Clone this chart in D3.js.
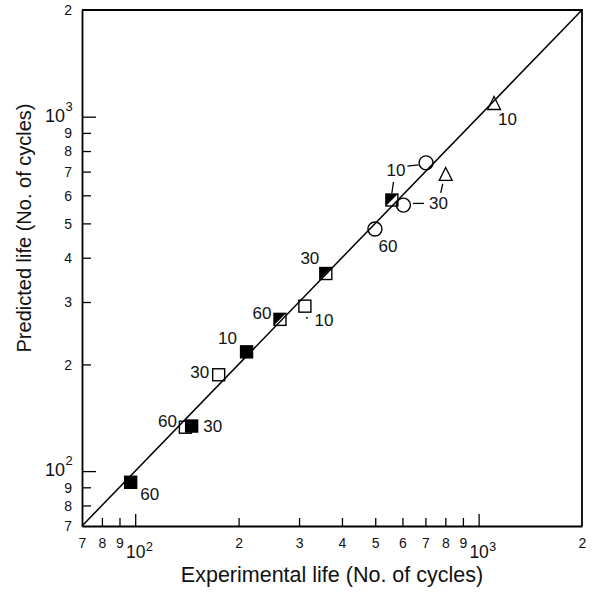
<!DOCTYPE html>
<html>
<head>
<meta charset="utf-8">
<script src="https://cdn.jsdelivr.net/npm/d3@7"></script>
<style>
  body { margin: 0; background: #fff; }
  text { font-family: "Liberation Sans", Arial, sans-serif; fill: #111; }
</style>
</head>
<body>
<script>
// experimental vs predicted life, grouped by marker type
const filledExp = [97, 146, 211];
const filledPred = [93, 134, 217];
const filledLabels = ["60", "30", "10"];

const openExp = [140, 175, 312];
const openPred = [133, 187, 292];
const openLabels = ["60", "30", "10"];

const halfExp = [264, 359, 559];
const halfPred = [268, 361, 582];
const halfLabels = ["60", "30", "10"];

const circleExp = [499, 604, 703];
const circlePred = [482, 563, 741];
const circleLabels = ["60", "30", "10"];

const triangleExp = [802, 1109];
const trianglePred = [685, 1086];
const triangleLabels = ["30", "10"];

const tickValues = [70, 80, 90, 100, 200, 300, 400, 500, 600, 700, 800, 900, 1000, 2000];
const tickLabels = ["7", "8", "9", "10^2", "2", "3", "4", "5", "6", "7", "8", "9", "10^3", "2"];

// label placement (offset from marker, optional leader line), not data
const layout = {
    filled: [{dx: 19, dy: 12}, {dx: 21, dy: 0}, {dx: -19, dy: -13}],
    open: [{dx: -18, dy: -6}, {dx: -19, dy: -2}, {dx: 19, dy: 14, lead: [1, 11.5, 3, 12]}],
    half: [{dx: -18, dy: -6}, {dx: -16, dy: -15}, {dx: 4, dy: -30, lead: [1.6, -18, 0, -7]}],
    circle: [{dx: 13, dy: 17.5}, {dx: 35, dy: -1.5, lead: [9.5, -1.7, 20.5, -1.7]}, {hide: true, lead: [-18.7, 3.3, -7.7, 2]}],
    triangle: [{hide: true, lead: [-3, 9, -5, 18]}, {dx: 13.5, dy: 16}]
};

const w = 592, h = 601;
const svg = d3.select("body").append("svg")
    .attr("width", w)
    .attr("height", h);

const x = d3.scaleLog().domain([70, 2000]).range([82, 582]);
const y = d3.scaleLog().domain([70, 2000]).range([526, 10]);

const label = d3.scaleOrdinal().domain(tickValues).range(tickLabels);
const isMajor = d => d === 100 || d === 1000;
const isEnd = d => d === 70 || d === 2000;

// bottom axis, ticks pointing inwards
const gx = svg.append("g")
    .attr("transform", `translate(0,${y(70)})`)
    .call(d3.axisBottom(x).tickValues(tickValues).tickSizeInner(-8).tickSizeOuter(0).tickFormat(label));

gx.select(".domain").attr("stroke-width", 1.8);
gx.selectAll(".tick line")
    .attr("stroke-width", 1.3)
    .attr("y2", d => isMajor(d) ? -12 : -8)
    .attr("display", d => isEnd(d) ? "none" : null);
gx.selectAll(".tick text")
    .attr("dy", null)
    .attr("y", d => isMajor(d) ? 32 : 22)
    .attr("font-size", d => isMajor(d) ? 17.5 : 14)
    .text(d => label(d).split("^")[0]);
gx.selectAll(".tick").filter(isMajor)
    .append("text")
    .attr("x", 10)
    .attr("y", 24.5)
    .attr("text-anchor", "start")
    .attr("font-size", 13)
    .attr("fill", "#111")
    .text(d => label(d).split("^")[1]);

// left axis
const gy = svg.append("g")
    .attr("transform", `translate(${x(70)},0)`)
    .call(d3.axisLeft(y).tickValues(tickValues).tickSizeInner(-9).tickSizeOuter(0).tickFormat(label));

gy.select(".domain").attr("stroke-width", 1.8);
gy.selectAll(".tick line")
    .attr("stroke-width", 1.3)
    .attr("x2", d => isMajor(d) ? 14 : 9)
    .attr("display", d => isEnd(d) ? "none" : null);
gy.selectAll(".tick text")
    .attr("dy", d => isMajor(d) ? null : "0.35em")
    .attr("y", d => isMajor(d) ? 4.5 : 0)
    .attr("x", d => isMajor(d) ? -17 : -10)
    .attr("font-size", d => isMajor(d) ? 18 : 14)
    .text(d => label(d).split("^")[0]);
gy.selectAll(".tick").filter(isMajor)
    .append("text")
    .attr("x", -16.5)
    .attr("y", -6.5)
    .attr("text-anchor", "start")
    .attr("font-size", 13)
    .attr("fill", "#111")
    .text(d => label(d).split("^")[1]);

// top and right frame
svg.append("path")
    .attr("d", `M${x(70)},${y(2000)}H${x(2000)}V${y(70)}`)
    .attr("fill", "none")
    .attr("stroke", "#000")
    .attr("stroke-width", 1.8);

// 1:1 line
svg.append("line")
    .attr("x1", x(70)).attr("y1", y(70))
    .attr("x2", x(2000)).attr("y2", y(2000))
    .attr("stroke", "#000")
    .attr("stroke-width", 1.5);

function drawGroup(name, exp, pred, labels, drawMarker) {
    const pts = exp.map((e, i) => ({e: e, p: pred[i], lab: labels[i], lay: layout[name][i]}));
    const g = svg.append("g").attr("class", name);
    const nodes = g.selectAll("g")
        .data(pts)
        .enter()
        .append("g")
        .attr("transform", d => `translate(${x(d.e)},${y(d.p)})`);
    drawMarker(nodes);
    nodes.filter(d => !d.lay.hide)
        .append("text")
        .attr("x", d => d.lay.dx)
        .attr("y", d => d.lay.dy)
        .attr("text-anchor", "middle")
        .attr("dominant-baseline", "central")
        .attr("font-size", 17)
        .text(d => d.lab);
    nodes.filter(d => d.lay.lead)
        .append("line")
        .attr("x1", d => d.lay.lead[0]).attr("y1", d => d.lay.lead[1])
        .attr("x2", d => d.lay.lead[2]).attr("y2", d => d.lay.lead[3])
        .attr("stroke", "#000")
        .attr("stroke-width", 1.3);
}

const s = 6; // half side of squares

drawGroup("open", openExp, openPred, openLabels, sel => {
    sel.append("rect")
        .attr("x", -s).attr("y", -s).attr("width", 2 * s).attr("height", 2 * s)
        .attr("fill", "none").attr("stroke", "#000").attr("stroke-width", 1.4);
});

drawGroup("filled", filledExp, filledPred, filledLabels, sel => {
    sel.append("rect")
        .attr("x", -s).attr("y", -s).attr("width", 2 * s).attr("height", 2 * s)
        .attr("fill", "#000").attr("stroke", "#000").attr("stroke-width", 1.4);
});

drawGroup("half", halfExp, halfPred, halfLabels, sel => {
    sel.append("path")
        .attr("d", `M${-s},${-s}H${s}L${-s},${s}Z`)
        .attr("fill", "#000");
    sel.append("rect")
        .attr("x", -s).attr("y", -s).attr("width", 2 * s).attr("height", 2 * s)
        .attr("fill", "none").attr("stroke", "#000").attr("stroke-width", 1.4);
});

drawGroup("circle", circleExp, circlePred, circleLabels, sel => {
    sel.append("circle")
        .attr("r", 7)
        .attr("fill", "none").attr("stroke", "#000").attr("stroke-width", 1.4);
});

drawGroup("triangle", triangleExp, trianglePred, triangleLabels, sel => {
    sel.append("path")
        .attr("d", "M0,-7.5L6.5,5.5L-6.5,5.5Z")
        .attr("fill", "none").attr("stroke", "#000").attr("stroke-width", 1.3);
});

// axis titles
svg.append("text")
    .attr("x", 332)
    .attr("y", 582)
    .attr("text-anchor", "middle")
    .attr("font-size", 21.5)
    .text("Experimental life (No. of cycles)");

svg.append("text")
    .attr("transform", "translate(31,228) rotate(-90)")
    .attr("text-anchor", "middle")
    .attr("font-size", 20)
    .text("Predicted life (No. of cycles)");
</script>
</body>
</html>
